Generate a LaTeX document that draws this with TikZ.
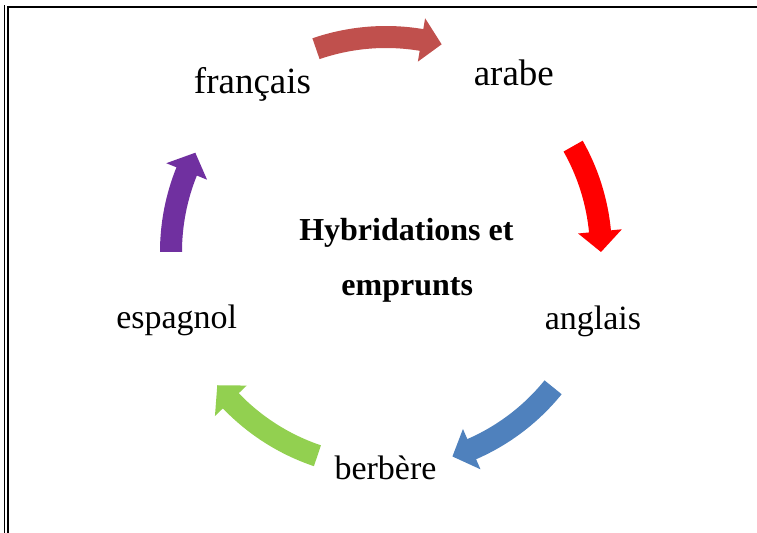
\documentclass[tikz,border=0pt]{standalone}
\usepackage{fontspec}
\setmainfont{Liberation Serif}
\usetikzlibrary{calc}
\definecolor{cbrick}{HTML}{C0504D}
\definecolor{cblue}{HTML}{4F81BD}
\definecolor{cgreen}{HTML}{92D050}
\definecolor{cpurple}{HTML}{7030A0}
\newcommand \mydrawarc[3]
{
\fill[#1] ($(O)+(#2:226)$) arc[start angle=#2, end angle=#3-5.5, radius=226]
  -- ($(O)+(#3-5.5:237)$) -- ($(O)+(#3:215)$) -- ($(O)+(#3-5.5:193)$)
  -- ($(O)+(#3-5.5:204)$) arc[start angle=#3-5.5, end angle=#2, radius=204] -- cycle;
}

\begin{document}
\begin{tikzpicture}[x=0.5pt, y=-0.5pt, lang/.style={inner sep=0pt, anchor=base, font=\fontsize{17}{20}\selectfont}, title/.style={inner sep=0pt, anchor=base, font=\fontsize{16}{19}\selectfont\bfseries}]
\useasboundingbox (0,0) rectangle (757,533);
% frame
\draw[line width=1pt] (8,533) -- (8,7) -- (757,7);
\draw[line width=0.5pt] (4.5,533) -- (4.5,5);
\coordinate (O) at (386,252);
% arrows of the cycle
\mydrawarc{cbrick}{-109}{-75}
\mydrawarc{red}{-29.5}{0}
\mydrawarc{cblue}{39}{72}
\mydrawarc{cgreen}{108.6}{141.7}
\mydrawarc{cpurple}{180}{207.5}
% languages
\node[lang, font=\fontsize{18.5}{22}\selectfont] (fr) at (252.5,93.3) {français};
\node[lang, font=\fontsize{18.5}{22}\selectfont] (ar) at (513.8,86) {arabe};
\node[lang] (en) at (593,330)    {anglais};
\node[lang] (be) at (385.5,480)  {berbère};
\node[lang] (es) at (176.7,328.3) {espagnol};
\node[title] (t1) at (406.4,241) {Hybridations et};
\node[title] (t2) at (407.2,296) {emprunts};
\end{tikzpicture}
\end{document}
